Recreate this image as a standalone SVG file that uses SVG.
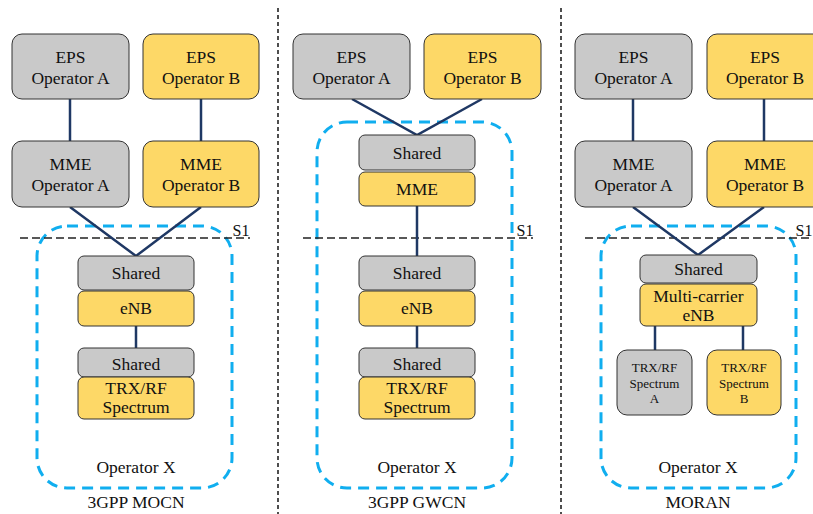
<svg xmlns="http://www.w3.org/2000/svg" width="813" height="514" viewBox="0 0 813 514">
<style>
text{font-family:"Liberation Serif","Times New Roman",serif;fill:#111;text-anchor:middle}
.t{font-size:17.5px}
.s{font-size:13px}
.g{fill:#c9c9c9;stroke:#333;stroke-width:1}
.y{fill:#fdd867;stroke:#333;stroke-width:1}
.c{stroke:#1f3864;stroke-width:2.5;fill:none}
.op{fill:none;stroke:#10aeef;stroke-width:3;stroke-dasharray:11 7}
.s1{stroke:#222;stroke-width:1.3;stroke-dasharray:8 4}
.dv{stroke:#222;stroke-width:1.6;stroke-dasharray:4 3}
</style>
<rect width="813" height="514" fill="#fff"/>
<g id="dividers">
<line class="dv" x1="278" y1="8" x2="278" y2="514"/>
<line class="dv" x1="561" y1="8" x2="561" y2="514"/>
</g>
<g id="operator-x-boxes">
<rect class="op" x="37" y="226" width="195" height="262" rx="30"/>
<rect class="op" x="317" y="122" width="195" height="366" rx="30"/>
<rect class="op" x="601" y="226" width="195" height="262" rx="30"/>
</g>
<g id="s1-lines">
<line class="s1" x1="20" y1="238" x2="250" y2="238"/>
<line class="s1" x1="303" y1="238" x2="533" y2="238"/>
<line class="s1" x1="585" y1="238" x2="813" y2="238"/>
<text x="241" y="236" style="font-size:16px">S1</text>
<text x="525" y="236" style="font-size:16px">S1</text>
<text x="804" y="236" style="font-size:16px">S1</text>
</g>
<g id="connectors">
<line class="c" x1="70" y1="99" x2="70" y2="141"/>
<line class="c" x1="201" y1="99" x2="201" y2="141"/>
<polyline class="c" points="70,207 136,256 201,207"/>
<line class="c" x1="136" y1="326" x2="136" y2="348"/>
<polyline class="c" points="352,99 417,135 482,99"/>
<line class="c" x1="417" y1="206" x2="417" y2="256"/>
<line class="c" x1="417" y1="326" x2="417" y2="348"/>
<line class="c" x1="633" y1="99" x2="633" y2="141"/>
<line class="c" x1="764" y1="99" x2="764" y2="141"/>
<polyline class="c" points="633,207 698,255 764,207"/>
<line class="c" x1="655" y1="326" x2="655" y2="350"/>
<line class="c" x1="743" y1="326" x2="743" y2="350"/>
</g>
<!-- Panel 1: 3GPP MOCN -->
<g id="p1-eps-a"><rect class="g" x="12" y="34" width="117" height="65" rx="10"/><text class="t" x="70.5" y="63">EPS</text><text class="t" x="70.5" y="84">Operator A</text></g>
<g id="p1-eps-b"><rect class="y" x="143" y="34" width="116" height="65" rx="10"/><text class="t" x="201" y="63">EPS</text><text class="t" x="201" y="84">Operator B</text></g>
<g id="p1-mme-a"><rect class="g" x="12" y="141" width="117" height="66" rx="10"/><text class="t" x="70.5" y="170">MME</text><text class="t" x="70.5" y="191">Operator A</text></g>
<g id="p1-mme-b"><rect class="y" x="143" y="141" width="116" height="66" rx="10"/><text class="t" x="201" y="170">MME</text><text class="t" x="201" y="191">Operator B</text></g>
<g id="p1-shared-enb"><rect class="g" x="78" y="256" width="116" height="34" rx="6"/><text class="t" x="136" y="279">Shared</text></g>
<g id="p1-enb"><rect class="y" x="78" y="291" width="116" height="35" rx="6"/><text class="t" x="136" y="314">eNB</text></g>
<g id="p1-shared-trx"><rect class="g" x="78" y="348" width="116" height="29" rx="6"/><text class="t" x="136" y="370">Shared</text></g>
<g id="p1-trx"><rect class="y" x="78" y="377" width="116" height="42" rx="6"/><text class="t" x="136" y="394">TRX/RF</text><text class="t" x="136" y="413">Spectrum</text></g>
<g id="p1-labels"><text class="t" x="136" y="473">Operator X</text><text class="t" x="136" y="508">3GPP MOCN</text></g>
<!-- Panel 2: 3GPP GWCN -->
<g id="p2-eps-a"><rect class="g" x="293" y="34" width="117" height="65" rx="10"/><text class="t" x="351.5" y="63">EPS</text><text class="t" x="351.5" y="84">Operator A</text></g>
<g id="p2-eps-b"><rect class="y" x="424" y="34" width="117" height="65" rx="10"/><text class="t" x="482.5" y="63">EPS</text><text class="t" x="482.5" y="84">Operator B</text></g>
<g id="p2-shared-mme"><rect class="g" x="359" y="135" width="116" height="35" rx="6"/><text class="t" x="417" y="159">Shared</text></g>
<g id="p2-mme"><rect class="y" x="359" y="172" width="116" height="34" rx="6"/><text class="t" x="417" y="195">MME</text></g>
<g id="p2-shared-enb"><rect class="g" x="359" y="256" width="116" height="34" rx="6"/><text class="t" x="417" y="279">Shared</text></g>
<g id="p2-enb"><rect class="y" x="359" y="291" width="116" height="35" rx="6"/><text class="t" x="417" y="314">eNB</text></g>
<g id="p2-shared-trx"><rect class="g" x="359" y="348" width="116" height="29" rx="6"/><text class="t" x="417" y="370">Shared</text></g>
<g id="p2-trx"><rect class="y" x="359" y="377" width="116" height="42" rx="6"/><text class="t" x="417" y="394">TRX/RF</text><text class="t" x="417" y="413">Spectrum</text></g>
<g id="p2-labels"><text class="t" x="417" y="473">Operator X</text><text class="t" x="417" y="508">3GPP GWCN</text></g>
<!-- Panel 3: MORAN -->
<g id="p3-eps-a"><rect class="g" x="575" y="34" width="117" height="65" rx="10"/><text class="t" x="633.5" y="63">EPS</text><text class="t" x="633.5" y="84">Operator A</text></g>
<g id="p3-eps-b"><rect class="y" x="707" y="34" width="117" height="65" rx="10"/><text class="t" x="765" y="63">EPS</text><text class="t" x="765" y="84">Operator B</text></g>
<g id="p3-mme-a"><rect class="g" x="575" y="141" width="117" height="66" rx="10"/><text class="t" x="633.5" y="170">MME</text><text class="t" x="633.5" y="191">Operator A</text></g>
<g id="p3-mme-b"><rect class="y" x="707" y="141" width="117" height="66" rx="10"/><text class="t" x="765" y="170">MME</text><text class="t" x="765" y="191">Operator B</text></g>
<g id="p3-shared"><rect class="g" x="640" y="255" width="117" height="28" rx="6"/><text class="t" x="698.5" y="275">Shared</text></g>
<g id="p3-enb"><rect class="y" x="640" y="284" width="117" height="42" rx="6"/><text class="t" x="698.5" y="302">Multi-carrier</text><text class="t" x="698.5" y="321">eNB</text></g>
<g id="p3-trx-a"><rect class="g" x="617" y="350" width="75" height="65" rx="10"/><text class="s" x="654.5" y="372">TRX/RF</text><text class="s" x="654.5" y="388">Spectrum</text><text class="s" x="654.5" y="403">A</text></g>
<g id="p3-trx-b"><rect class="y" x="707" y="350" width="74" height="65" rx="10"/><text class="s" x="744" y="372">TRX/RF</text><text class="s" x="744" y="388">Spectrum</text><text class="s" x="744" y="403">B</text></g>
<g id="p3-labels"><text class="t" x="698" y="473">Operator X</text><text class="t" x="698" y="508">MORAN</text></g>
</svg>
